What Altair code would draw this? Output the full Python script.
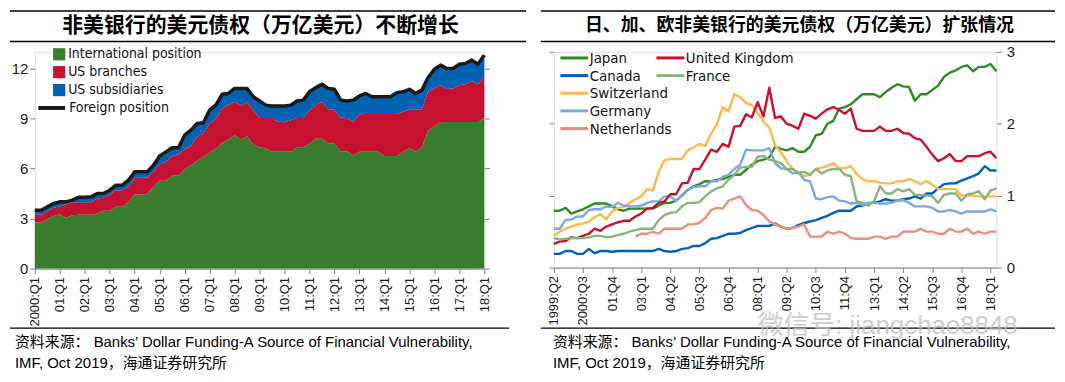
import json
import altair as alt
import pandas as pd

# ---------------- left panel data ----------------
left_title = "非美银行的美元债权（万亿美元）不断增长"
left_ticks = ["2000:Q1", "01:Q1", "02:Q1", "03:Q1", "04:Q1", "05:Q1", "06:Q1", "07:Q1",
              "08:Q1", "09:Q1", "10:Q1", "11:Q1", "12:Q1", "13:Q1", "14:Q1", "15:Q1",
              "16:Q1", "17:Q1", "18:Q1"]
left_series = ["International position", "US branches", "US subsidiaries"]
left_colors = ["#3A7D2E", "#C41230", "#0062B1"]
left_line_name = "Foreign position"
left_yticks = [0, 3, 6, 9, 12]

# cumulative boundaries, quarterly 2000:Q1 .. 2018:Q1
intl_top = [2.78, 2.78, 2.95, 3.15, 3.25, 3.05, 3.20, 3.23, 3.23, 3.23,
            3.30, 3.47, 3.47, 3.71, 3.71, 3.97, 4.46, 4.46, 4.46, 4.90,
            5.26, 5.26, 5.56, 5.56, 5.95, 6.20, 6.45, 6.70, 6.95, 7.20,
            7.54, 7.74, 8.00, 7.74, 7.94, 7.44, 7.28, 7.20, 7.00, 7.00,
            7.00, 7.00, 7.28, 7.28, 7.50, 7.78, 7.78, 7.50, 7.50, 7.04,
            7.04, 6.80, 7.00, 7.00, 7.00, 7.00, 6.75, 6.75, 6.75, 7.00,
            7.24, 7.00, 7.28, 8.27, 8.53, 8.79, 8.79, 8.79, 8.79, 8.79,
            8.79, 8.79, 9.03]
branches_top = [3.23, 3.23, 3.45, 3.65, 3.72, 3.85, 3.97, 3.97, 3.97, 3.97,
                4.20, 4.25, 4.45, 4.70, 4.70, 4.90, 5.45, 5.45, 5.45, 5.80,
                6.25, 6.40, 6.75, 6.85, 7.15, 7.35, 7.90, 8.10, 8.70, 9.00,
                9.60, 9.82, 10.00, 9.78, 9.98, 9.50, 9.03, 9.03, 9.03, 8.80,
                8.77, 8.90, 9.03, 9.03, 9.50, 9.80, 10.00, 9.55, 9.52, 9.05,
                9.03, 8.80, 9.25, 9.27, 9.27, 9.27, 9.27, 9.27, 9.27, 9.40,
                9.52, 9.52, 9.55, 10.60, 10.80, 11.00, 10.77, 10.80, 11.00, 11.05,
                11.25, 11.05, 11.50]
foreign_total = [3.50, 3.50, 3.70, 3.90, 4.00, 4.00, 4.10, 4.27, 4.27, 4.30,
                 4.50, 4.50, 4.70, 5.00, 5.00, 5.30, 5.80, 5.80, 5.80, 6.20,
                 6.75, 7.00, 7.25, 7.25, 8.00, 8.30, 8.70, 8.75, 9.50, 9.80,
                 10.45, 10.50, 10.80, 10.80, 10.80, 10.30, 10.05, 9.80, 9.75, 9.75,
                 9.75, 9.80, 10.05, 10.10, 10.60, 10.85, 11.05, 10.80, 10.75, 10.10,
                 10.05, 10.10, 10.35, 10.50, 10.30, 10.30, 10.30, 10.30, 10.55, 10.60,
                 10.75, 10.50, 10.70, 11.45, 11.95, 12.20, 12.00, 12.00, 12.25, 12.30,
                 12.50, 12.25, 12.80]

# ---------------- right panel data ----------------
right_title = "日、加、欧非美银行的美元债权（万亿美元）扩张情况"
right_ticks = ["1999:Q2", "2000:Q3", "01:Q4", "03:Q1", "04:Q2", "05:Q3", "06:Q4", "08:Q1",
               "09:Q2", "10:Q3", "11:Q4", "13:Q1", "14:Q2", "15:Q3", "16:Q4", "18:Q1"]
right_yticks = [0, 1, 2, 3]
col1_names = ["Japan", "Canada", "Switzerland", "Germany", "Netherlands"]
col1_colors = ["#2F8A26", "#005FB6", "#FDB84A", "#7FA6DF", "#E8907F"]
col2_names = ["United Kingdom", "France"]
col2_colors = ["#C8102E", "#86B47A"]

japan = [0.79, 0.79, 0.83, 0.75, 0.78, 0.81, 0.85, 0.89, 0.89, 0.89,
         0.85, 0.81, 0.79, 0.82, 0.82, 0.82, 0.82, 0.82, 0.86, 0.90,
         0.90, 0.93, 1.00, 1.08, 1.13, 1.16, 1.20, 1.20, 1.22, 1.23,
         1.26, 1.29, 1.29, 1.36, 1.43, 1.48, 1.50, 1.53, 1.68, 1.65,
         1.63, 1.66, 1.61, 1.61, 1.68, 1.84, 1.86, 2.00, 2.04, 2.21,
         2.23, 2.27, 2.34, 2.41, 2.41, 2.41, 2.37, 2.44, 2.50, 2.55,
         2.52, 2.51, 2.32, 2.41, 2.41, 2.47, 2.53, 2.65, 2.71, 2.74,
         2.79, 2.81, 2.73, 2.79, 2.79, 2.83, 2.73]
united_kingdom = [0.33, 0.36, 0.37, 0.42, 0.41, 0.44, 0.47, 0.54, 0.51, 0.57,
                  0.60, 0.63, 0.65, 0.65, 0.71, 0.75, 0.82, 0.83, 0.90, 0.92,
                  1.02, 1.02, 1.17, 1.18, 1.37, 1.37, 1.50, 1.64, 1.61, 1.72,
                  1.68, 1.96, 1.97, 2.13, 2.09, 2.30, 2.10, 2.50, 2.08, 2.10,
                  2.00, 1.97, 1.93, 2.14, 2.11, 2.07, 2.14, 2.20, 2.23, 2.19,
                  2.14, 2.21, 1.93, 1.90, 1.90, 1.90, 1.96, 1.90, 1.90, 1.93,
                  1.87, 1.86, 1.80, 1.78, 1.68, 1.57, 1.48, 1.52, 1.58, 1.48,
                  1.48, 1.55, 1.55, 1.55, 1.59, 1.61, 1.52]
canada = [0.19, 0.19, 0.23, 0.23, 0.19, 0.19, 0.26, 0.20, 0.23, 0.23,
          0.22, 0.23, 0.23, 0.23, 0.23, 0.23, 0.23, 0.23, 0.26, 0.23,
          0.22, 0.23, 0.26, 0.27, 0.30, 0.30, 0.34, 0.40, 0.41, 0.44,
          0.47, 0.47, 0.48, 0.52, 0.55, 0.58, 0.58, 0.58, 0.61, 0.57,
          0.54, 0.55, 0.59, 0.62, 0.64, 0.66, 0.69, 0.72, 0.76, 0.79,
          0.79, 0.79, 0.85, 0.86, 0.90, 0.90, 0.92, 0.95, 0.93, 0.93,
          0.95, 0.96, 0.99, 0.96, 1.03, 1.03, 1.10, 1.16, 1.17, 1.17,
          1.21, 1.24, 1.27, 1.31, 1.41, 1.35, 1.35]
france = [0.41, 0.39, 0.40, 0.41, 0.41, 0.41, 0.42, 0.44, 0.44, 0.42,
          0.43, 0.45, 0.47, 0.50, 0.52, 0.54, 0.54, 0.54, 0.66, 0.73,
          0.76, 0.77, 0.85, 0.90, 0.90, 0.91, 0.99, 1.06, 1.10, 1.13,
          1.22, 1.29, 1.39, 1.40, 1.40, 1.54, 1.55, 1.50, 1.48, 1.45,
          1.37, 1.37, 1.32, 1.33, 1.29, 1.37, 1.31, 1.35, 1.37, 1.37,
          1.29, 1.27, 0.92, 0.90, 0.86, 0.92, 1.13, 1.03, 1.03, 1.09,
          1.06, 1.09, 1.01, 1.01, 1.00, 0.99, 0.90, 1.01, 1.03, 1.03,
          0.93, 1.02, 1.03, 1.06, 0.95, 1.07, 1.10]
switzerland = [0.44, 0.50, 0.54, 0.57, 0.60, 0.61, 0.64, 0.70, 0.74, 0.67,
               0.78, 0.83, 0.84, 0.90, 0.95, 0.99, 1.09, 1.07, 1.33, 1.49,
               1.51, 1.51, 1.51, 1.63, 1.67, 1.72, 1.69, 1.86, 1.99, 2.23,
               2.17, 2.41, 2.37, 2.29, 2.26, 2.15, 2.03, 1.95, 1.70, 1.60,
               1.48, 1.37, 1.32, 1.27, 1.29, 1.37, 1.39, 1.41, 1.45, 1.38,
               1.38, 1.41, 1.30, 1.23, 1.20, 1.20, 1.18, 1.17, 1.17, 1.20,
               1.20, 1.23, 1.20, 1.16, 1.20, 1.15, 1.09, 1.09, 1.09, 1.09,
               1.00, 1.00, 1.00, 0.99, 0.99, 0.99, 0.99]
germany = [0.54, 0.54, 0.66, 0.67, 0.71, 0.71, 0.80, 0.81, 0.81, 0.85,
           0.84, 0.90, 0.86, 0.85, 0.85, 0.86, 0.90, 0.92, 0.92, 0.99,
           0.99, 0.93, 1.01, 1.08, 1.12, 1.13, 1.13, 1.20, 1.20, 1.26,
           1.29, 1.37, 1.43, 1.64, 1.63, 1.63, 1.63, 1.66, 1.45, 1.38,
           1.37, 1.31, 1.32, 1.22, 1.20, 0.96, 0.95, 0.98, 0.99, 0.93,
           0.92, 0.89, 0.90, 0.87, 0.90, 0.90, 0.89, 0.89, 0.90, 0.93,
           0.94, 0.90, 0.85, 0.85, 0.85, 0.83, 0.78, 0.78, 0.80, 0.78,
           0.75, 0.78, 0.78, 0.78, 0.78, 0.81, 0.78]
netherlands = [None, None, None, None, None, None, None, None, None, None,
               None, None, None, None, 0.43, 0.47, 0.47, 0.50, 0.47, 0.54,
               0.54, 0.54, 0.54, 0.60, 0.60, 0.62, 0.69, 0.80, 0.83, 0.82,
               0.93, 0.96, 0.99, 0.87, 0.80, 0.79, 0.73, 0.64, 0.60, 0.57,
               0.54, 0.55, 0.57, 0.60, 0.43, 0.43, 0.43, 0.50, 0.47, 0.50,
               0.47, 0.41, 0.40, 0.40, 0.40, 0.43, 0.43, 0.40, 0.43, 0.43,
               0.50, 0.50, 0.50, 0.54, 0.50, 0.50, 0.47, 0.47, 0.54, 0.50,
               0.50, 0.54, 0.47, 0.50, 0.47, 0.50, 0.50]

source_line1 = "资料来源： Banks’ Dollar Funding-A Source of Financial Vulnerability,"
source_line2 = "IMF, Oct 2019，海通证券研究所"
watermark = "微信号: jiangchao8848"

# ---------------- styling constants ----------------
TXT_FONT = "Liberation Sans, Noto Sans CJK SC"
CJK_FONT = "Noto Sans CJK SC"
NARROW = "Liberation Sans Narrow, Arial Narrow, DejaVu Sans Condensed, Liberation Sans"
GRAY = "#808080"
LONG_DASH = "M-2,0H2"


def one_row():
    return pd.DataFrame({"k": [0]})


def hrule(x1, x2, y, w):
    return alt.Chart(one_row()).mark_rule(color="#000000", strokeWidth=w).encode(
        x=alt.value(x1), x2=alt.value(x2), y=alt.value(y))


def label(txt, x, y, size, font, weight="normal", align="left", color="#000000", opacity=1.0):
    return alt.Chart(pd.DataFrame({"t": [txt]})).mark_text(
        align=align, baseline="middle", fontSize=size, font=font, fontWeight=weight,
        color=color, opacity=opacity).encode(x=alt.value(x), y=alt.value(y), text="t:N")


# ---------------- left panel ----------------
n_left = len(foreign_total)
rows = []
for i in range(n_left):
    rows.append({"q": i, "series": left_series[0], "lo": 0.0, "hi": intl_top[i]})
    rows.append({"q": i, "series": left_series[1], "lo": intl_top[i], "hi": branches_top[i]})
    rows.append({"q": i, "series": left_series[2], "lo": branches_top[i], "hi": foreign_total[i]})
left_area_df = pd.DataFrame(rows)
left_line_df = pd.DataFrame({"q": list(range(n_left)), "total": foreign_total,
                             "name": [left_line_name] * n_left})

LW, LH = 452, 218
left_x = alt.X("q:Q", scale=alt.Scale(domain=[0, n_left - 1], nice=False, zero=False),
               axis=alt.Axis(values=[i * 4 for i in range(len(left_ticks))],
                             labelExpr=json.dumps(left_ticks, ensure_ascii=False) + "[round(datum.value/4)]",
                             labelAngle=-90, labelFontSize=13, labelFont="Liberation Sans",
                             labelColor="#1a1a1a", labelPadding=3, tickSize=5,
                             tickColor=GRAY, domainColor=GRAY, title=None, grid=False,
                             labelOverlap=False, labelFlush=False))
left_yscale = alt.Scale(domain=[0, 13], nice=False)

left_area = alt.Chart(left_area_df).mark_area(interpolate="linear", strokeWidth=0).encode(
    x=left_x,
    y=alt.Y("lo:Q", scale=left_yscale,
            axis=alt.Axis(orient="left", values=left_yticks, title=None, grid=False,
                          labelFontSize=15, labelFont="Liberation Sans", labelColor="#1a1a1a",
                          tickSize=5, tickColor=GRAY, labelPadding=2, domain=False)),
    y2="hi:Q",
    color=alt.Color("series:N", scale=alt.Scale(domain=left_series, range=left_colors),
                    legend=alt.Legend(orient="none", legendX=17.5, legendY=-4.5, title=None,
                                      symbolType="square", symbolSize=150, symbolStrokeWidth=0,
                                      symbolOpacity=1, labelFont=NARROW, labelFontSize=14,
                                      labelColor="#111111", rowPadding=4, padding=0,
                                      labelOffset=2)),
)
left_line = alt.Chart(left_line_df).mark_line(strokeWidth=3.5, strokeJoin="round").encode(
    x=left_x,
    y=alt.Y("total:Q", scale=left_yscale,
            axis=alt.Axis(orient="right", values=left_yticks, labels=False, title=None,
                          grid=False, tickSize=5, tickColor=GRAY, domain=False)),
    stroke=alt.Stroke("name:N", scale=alt.Scale(domain=[left_line_name], range=["#1a1a1a"]),
                      legend=alt.Legend(orient="none", legendX=1.5, legendY=41, title=None,
                                        symbolType="stroke", symbolSize=729, symbolStrokeWidth=4,
                                        labelFont=NARROW, labelFontSize=14, labelColor="#111111",
                                        padding=0, labelOffset=2)),
)

left_panel = alt.layer(
    left_area, left_line,
    hrule(-25, 494, -41, 1.5),
    hrule(-25, 494, -10.3, 1.5),
    label(left_title, 227, -26, 21, CJK_FONT, weight="bold", align="center"),
    hrule(-25, 477, 278, 1.2),
    label(source_line1, -20, 292, 15, TXT_FONT),
    label(source_line2, -20, 313, 15, TXT_FONT),
).resolve_axis(y="independent").properties(width=LW, height=LH)

# ---------------- right panel ----------------
n_right = len(japan)
col1_df = pd.DataFrame({"q": list(range(n_right)), "Japan": japan, "Canada": canada,
                        "Switzerland": switzerland, "Germany": germany,
                        "Netherlands": netherlands}).melt("q", var_name="country", value_name="v")
col2_df = pd.DataFrame({"q": list(range(n_right)), "United Kingdom": united_kingdom,
                        "France": france}).melt("q", var_name="country", value_name="v")

RW, RH = 445, 217
right_x = alt.X("q:Q", scale=alt.Scale(domain=[0, n_right - 1], nice=False, zero=False),
                axis=alt.Axis(values=[i * 5 for i in range(len(right_ticks))],
                              labelExpr=json.dumps(right_ticks, ensure_ascii=False) + "[round(datum.value/5)]",
                              labelAngle=-90, labelFontSize=13, labelFont="Liberation Sans",
                              labelColor="#1a1a1a", labelPadding=3, tickSize=5,
                              tickColor=GRAY, domainColor=GRAY, title=None, grid=False,
                              labelOverlap=False, labelFlush=False))
right_yscale = alt.Scale(domain=[0, 3], nice=False)

leg_common = dict(orient="none", title=None, symbolType=LONG_DASH, symbolSize=196,
                  symbolStrokeWidth=3, labelFont=NARROW, labelFontSize=15,
                  labelColor="#111111", rowPadding=0.75, padding=0, labelOffset=7)

right_a = alt.Chart(col1_df).mark_line(strokeWidth=2.4, strokeJoin="round").encode(
    x=right_x,
    y=alt.Y("v:Q", scale=right_yscale,
            axis=alt.Axis(orient="left", values=right_yticks, labels=False, title=None,
                          grid=False, tickSize=5, tickColor=GRAY, domain=False)),
    color=alt.Color("country:N", scale=alt.Scale(domain=col1_names, range=col1_colors),
                    legend=alt.Legend(legendX=12, legendY=-2.3, **leg_common)),
)
right_b = alt.Chart(col2_df).mark_line(strokeWidth=2.4, strokeJoin="round").encode(
    x=right_x,
    y=alt.Y("v:Q", scale=right_yscale,
            axis=alt.Axis(orient="right", values=right_yticks, title=None, grid=False,
                          labelFontSize=15, labelFont="Liberation Sans", labelColor="#1a1a1a",
                          tickSize=5, tickColor=GRAY, labelPadding=5, domain=False)),
    stroke=alt.Stroke("country:N", scale=alt.Scale(domain=col2_names, range=col2_colors),
                      legend=alt.Legend(legendX=108.7, legendY=-2.3, **leg_common)),
)

right_panel = alt.layer(
    right_a, right_b,
    hrule(-13, 504, -41, 1.5),
    hrule(-13, 504, -10.3, 1.5),
    label(right_title, 247, -26, 18, CJK_FONT, weight="bold", align="center"),
    hrule(-13, 504, 278, 1.2),
    label(watermark, 205, 276, 26, TXT_FONT, color="#bdbdbd", opacity=0.75),
    label(source_line1, -1, 292, 15, TXT_FONT),
    label(source_line2, -1, 313, 15, TXT_FONT),
).resolve_axis(y="independent").properties(width=RW, height=RH)

chart = alt.hconcat(left_panel, right_panel, spacing=11).resolve_scale(
    color="independent", stroke="independent"
).resolve_legend(
    color="independent", stroke="independent"
).properties(
    padding=0
).configure_view(strokeWidth=0).configure(background="#ffffff")

chart.save("out.html", embed_options={"renderer": "svg", "actions": False})
